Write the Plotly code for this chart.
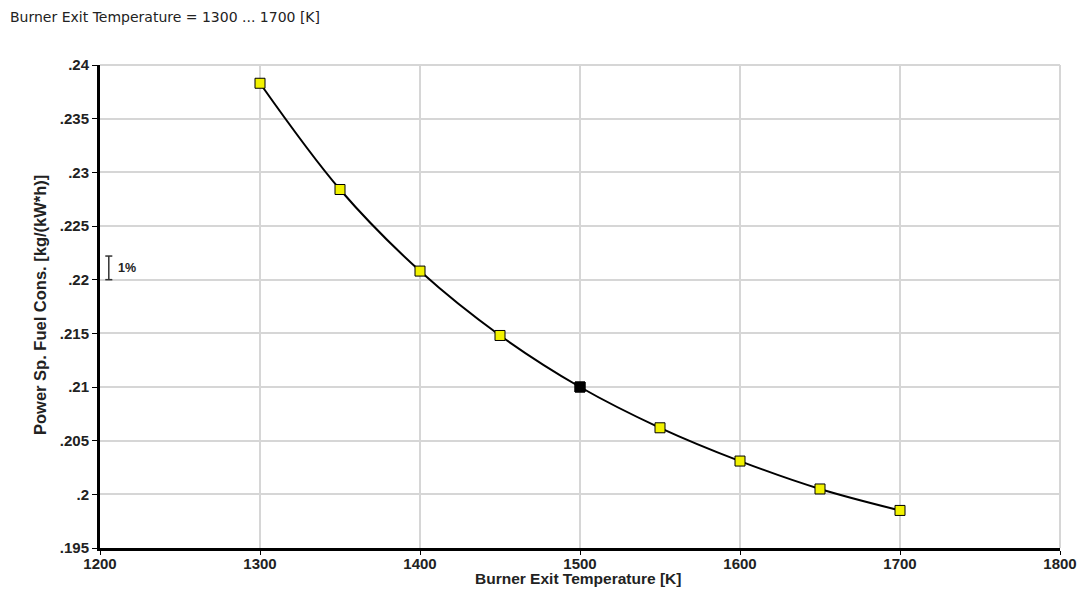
import plotly.graph_objects as go

temps = [1300, 1350, 1400, 1450, 1500, 1550, 1600, 1650, 1700]
sfc = [0.2383, 0.2284, 0.2208, 0.2148, 0.2100, 0.2062, 0.2031, 0.2005, 0.1985]
design_temp = [1500]
design_sfc = [0.2100]

x_ticks = [1200, 1300, 1400, 1500, 1600, 1700, 1800]
y_ticks = [0.195, 0.2, 0.205, 0.21, 0.215, 0.22, 0.225, 0.23, 0.235, 0.24]
y_tick_text = [".195", ".2", ".205", ".21", ".215", ".22", ".225", ".23", ".235", ".24"]

FONT = "Liberation Sans, Arial, sans-serif"
W, H = 1080, 589
L, R, T, B = 100, 20, 65, 41
PW, PH = W - L - R, H - T - B


def px(xp):
    return (xp - L) / PW


def py(yp):
    return (H - B - yp) / PH


fig = go.Figure()
fig.add_trace(go.Scatter(
    x=temps, y=sfc, mode="lines+markers",
    line=dict(color="black", width=2, shape="spline"),
    marker=dict(symbol="square", size=10, color="#f2f200",
                line=dict(color="black", width=1)),
    showlegend=False, hoverinfo="x+y"))
fig.add_trace(go.Scatter(
    x=design_temp, y=design_sfc, mode="markers",
    marker=dict(symbol="square", size=10, color="black",
                line=dict(color="black", width=1)),
    showlegend=False))

# 1% bracket
for (x0, x1, y0, y1) in [(1205.5, 1205.5, 0.22, 0.2222),
                         (1203.3, 1207.7, 0.22, 0.22),
                         (1203.3, 1207.7, 0.2222, 0.2222)]:
    fig.add_shape(type="line", xref="x", yref="y", x0=x0, x1=x1, y0=y0, y1=y1,
                  line=dict(color="#333", width=1.5))
fig.add_annotation(x=1210, y=0.2211, xref="x", yref="y", text="<b>1%</b>", showarrow=False,
                   xanchor="left", yanchor="middle", font=dict(family=FONT, size=12.5, color="#222"))

# top-left caption
fig.add_annotation(x=px(8), y=py(17), xref="paper", yref="paper",
                   text="Burner Exit Temperature = 1300 ... 1700 [K]",
                   showarrow=False, xanchor="left", yanchor="middle",
                   font=dict(family="DejaVu Sans", size=14, color="#222"))
# axis titles
fig.add_annotation(x=px(578), y=py(578), xref="paper", yref="paper",
                   text="<b>Burner Exit Temperature [K]</b>", showarrow=False,
                   xanchor="center", yanchor="middle",
                   font=dict(family=FONT, size=15.5, color="#222"))
fig.add_annotation(x=px(40), y=py(305), xref="paper", yref="paper",
                   text="<b>Power Sp. Fuel Cons. [kg/(kW*h)]</b>", showarrow=False,
                   xanchor="center", yanchor="middle", textangle=-90,
                   font=dict(family=FONT, size=16.5, color="#222"))

tickfont = dict(family=FONT, size=15, color="#222", weight="bold")
fig.update_layout(
    width=W, height=H,
    margin=dict(l=L, r=R, t=T, b=B),
    paper_bgcolor="white", plot_bgcolor="white",
    font=dict(family=FONT, size=13, color="#222"),
    xaxis=dict(range=[1200, 1800], tickvals=x_ticks, showgrid=True, gridcolor="#d6d6d6", gridwidth=2,
               showline=True, linecolor="black", linewidth=3, ticks="outside", ticklen=4,
               tickcolor="black", zeroline=False, automargin=False, tickfont=tickfont,
               ticklabelstandoff=-4),
    yaxis=dict(range=[0.195, 0.24], tickvals=y_ticks, ticktext=y_tick_text, showgrid=True,
               gridcolor="#d6d6d6", gridwidth=2, showline=True, linecolor="black", linewidth=3,
               ticks="outside", ticklen=5, tickcolor="black", zeroline=False, automargin=False,
               tickfont=tickfont),
)
# right and top border gridlines
fig.add_shape(type="line", xref="paper", yref="paper", x0=1, x1=1, y0=0, y1=1,
              line=dict(color="#d6d6d6", width=2), layer="below")
fig.add_shape(type="line", xref="paper", yref="paper", x0=0, x1=1, y0=1, y1=1,
              line=dict(color="#d6d6d6", width=2), layer="below")

fig.write_html("out.html", config={"displayModeBar": False},
               post_script="document.body.style.margin='0';document.body.style.overflow='hidden';")
